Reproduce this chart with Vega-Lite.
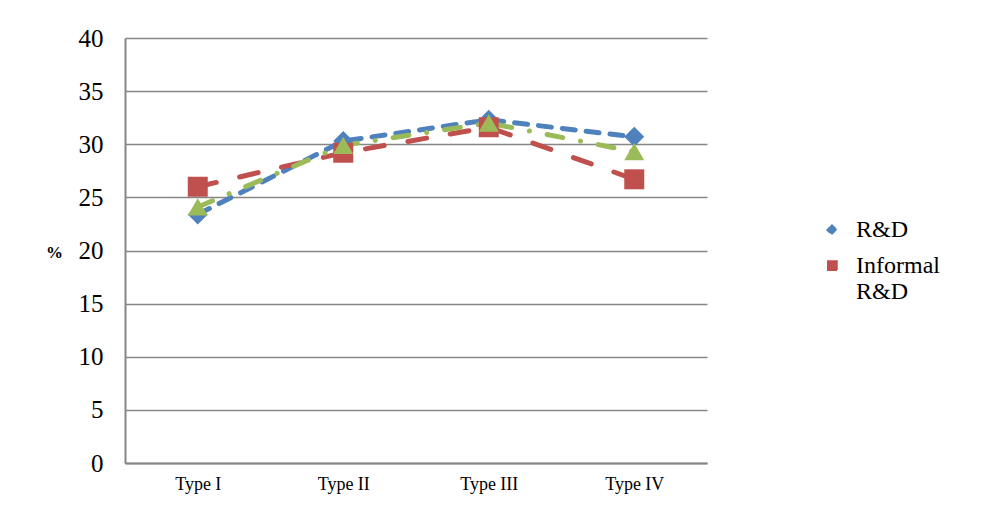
{
  "$schema": "https://vega.github.io/schema/vega-lite/v6.json",
  "width": 582,
  "height": 425,
  "autosize": {"type": "none"},
  "padding": {"left": 125, "top": 38, "right": 296, "bottom": 49},
  "background": "white",
  "config": {
    "font": "Liberation Serif",
    "view": {"stroke": null}
  },
  "data": {
    "values": [
      {"type": "Type I", "series": "R&D", "value": 23.4},
      {"type": "Type II", "series": "R&D", "value": 30.3},
      {"type": "Type III", "series": "R&D", "value": 32.3},
      {"type": "Type IV", "series": "R&D", "value": 30.7},
      {"type": "Type I", "series": "Informal R&D", "value": 26.0},
      {"type": "Type II", "series": "Informal R&D", "value": 29.2},
      {"type": "Type III", "series": "Informal R&D", "value": 31.6},
      {"type": "Type IV", "series": "Informal R&D", "value": 26.7},
      {"type": "Type I", "series": "Other", "value": 24.1},
      {"type": "Type II", "series": "Other", "value": 29.9},
      {"type": "Type III", "series": "Other", "value": 32.0},
      {"type": "Type IV", "series": "Other", "value": 29.3}
    ]
  },
  "encoding": {
    "x": {
      "field": "type", "type": "nominal", "sort": ["Type I", "Type II", "Type III", "Type IV"],
      "scale": {"paddingInner": 0, "paddingOuter": 0},
      "axis": {
        "title": null, "labelAngle": 0, "labelFontSize": 18, "labelColor": "black",
        "labelPadding": 12, "ticks": false, "domainColor": "#868686", "domainWidth": 2, "grid": false
      }
    },
    "y": {
      "field": "value", "type": "quantitative",
      "scale": {"domain": [0, 40], "nice": false, "zero": true},
      "axis": {
        "values": [0, 5, 10, 15, 20, 25, 30, 35, 40],
        "title": "%", "titleAngle": 0, "titleFontWeight": "bold", "titleFontSize": 17,
        "titleX": -71, "titleY": 214, "titleAlign": "center", "titleBaseline": "middle", "titleColor": "black",
        "labelFontSize": 25, "labelColor": "black", "labelPadding": 22, "ticks": false,
        "domainColor": "#868686", "domainWidth": 2,
        "grid": true, "gridColor": "#868686", "gridWidth": 1.5
      }
    },
    "color": {
      "field": "series", "type": "nominal",
      "scale": {"domain": ["R&D", "Informal R&D", "Other"], "range": ["#4F81BD", "#C0504D", "#9BBB59"]},
      "legend": {
        "title": null, "orient": "none", "legendX": 695, "legendY": 180,
        "values": ["R&D", "Informal R&D"],
        "labelExpr": "datum.label == 'Informal R&D' ? ['Informal', 'R&D'] : datum.label",
        "labelFontSize": 24, "labelColor": "black", "labelLimit": 300, "labelOffset": 12,
        "rowPadding": 12
      }
    }
  },
  "layer": [
    {
      "mark": {"type": "line", "strokeWidth": 5, "strokeCap": "round"},
      "encoding": {
        "strokeDash": {
          "field": "series", "type": "nominal",
          "scale": {"domain": ["R&D", "Informal R&D", "Other"], "range": [[13, 11], [19, 24], [16, 18, 0.1, 18]]},
          "legend": null
        }
      }
    },
    {
      "mark": {"type": "point", "filled": true, "opacity": 1, "size": 400},
      "encoding": {
        "shape": {
          "field": "series", "type": "nominal",
          "scale": {"domain": ["R&D", "Informal R&D", "Other"], "range": ["diamond", "square", "triangle-up"]},
          "legend": {
            "title": null, "orient": "none", "legendX": 695, "legendY": 180,
            "values": ["R&D", "Informal R&D"],
            "labelExpr": "datum.label == 'Informal R&D' ? ['Informal', 'R&D'] : datum.label",
            "labelFontSize": 24, "labelColor": "black", "labelLimit": 300, "labelOffset": 12,
            "rowPadding": 12
          }
        }
      }
    }
  ]
}
